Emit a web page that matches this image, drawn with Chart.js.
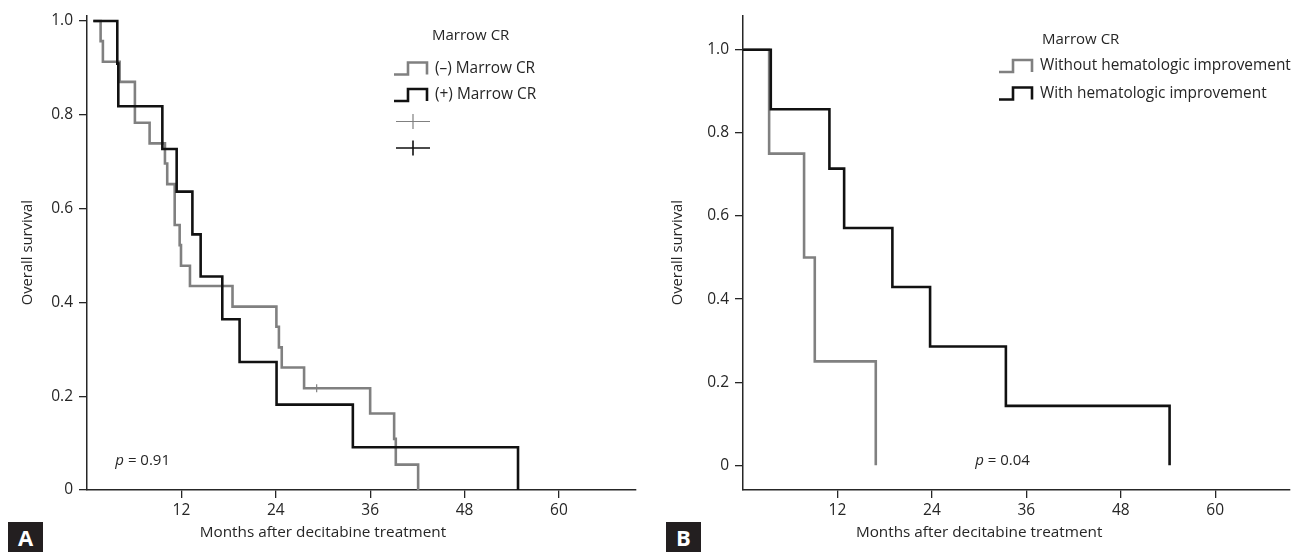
<!DOCTYPE html>
<html>
<head>
<meta charset="utf-8">
<script src="https://cdn.jsdelivr.net/npm/chart.js@4.4.1/dist/chart.umd.min.js"></script>
<style>
  body { margin: 0; background: #fff; width: 1295px; height: 552px; position: relative; overflow: hidden; }
  .panel { position: absolute; top: 0; height: 552px; }
  .tag { position: absolute; top: 522px; width: 35px; height: 30px; background: #231f20; color: #fff;
         font: bold 22px "Open Sans"; text-align: center; line-height: 31px; }
</style>
</head>
<body>
<div class="panel" style="left:0;width:650px"><canvas id="chartA"></canvas></div>
<div class="panel" style="left:650px;width:645px"><canvas id="chartB"></canvas></div>
<div class="tag" style="left:8px">A</div>
<div class="tag" style="left:666px">B</div>
<script>
var monthTicks = [12, 24, 36, 48, 60];
var survivalTicks = [0, 0.2, 0.4, 0.6, 0.8, 1.0];

// panel A - marrow CR
var crNegMonths = [0.8, 1.73, 2.02, 4.15, 6.09, 7.96, 9.91, 10.2, 11.15, 11.78, 11.95, 13.09, 18.5, 24.08, 24.4, 24.76, 27.6, 29.2, 36.0, 39.05, 39.26, 42.1];
var crNegSurv   = [1.0, 0.957, 0.913, 0.870, 0.783, 0.739, 0.696, 0.652, 0.565, 0.522, 0.478, 0.435, 0.391, 0.348, 0.304, 0.261, 0.217, 0.217, 0.163, 0.109, 0.054, 0];
var crPosMonths = [0.8, 3.85, 3.98, 9.58, 11.4, 13.4, 14.45, 17.2, 19.4, 24.1, 33.8, 54.8];
var crPosSurv   = [1.0, 0.909, 0.818, 0.727, 0.636, 0.545, 0.455, 0.364, 0.273, 0.182, 0.091, 0];
var crNegCensorMonths = [29.2];
var crNegCensorSurv   = [0.217];

// panel B - hematologic improvement
var noHiMonths = [0, 3.32, 7.76, 9.12, 16.87];
var noHiSurv   = [1.0, 0.75, 0.5, 0.25, 0];
var hiMonths   = [0, 3.53, 10.98, 12.85, 18.98, 23.77, 33.4, 54.2];
var hiSurv     = [1.0, 0.857, 0.714, 0.571, 0.429, 0.286, 0.143, 0];

var labelsA = ['(\u2013) Marrow CR', '(+) Marrow CR'];
var labelsB = ['Without hematologic improvement', 'With hematologic improvement'];
var legendTitle = 'Marrow CR';
var xTitle = 'Months after decitabine treatment';
var yTitle = 'Overall survival';

var GREY = '#808080';
var BLACK = '#111111';
var TEXT = '#262626';
var FONT = '"Open Sans"';

function pts(xs, ys) {
  return xs.map(function (x, i) { return { x: x, y: ys[i] }; });
}

function stepSet(label, xs, ys, color, order) {
  return {
    label: label, data: pts(xs, ys), stepped: true, borderColor: color,
    borderWidth: 2.6, pointRadius: 0, fill: false, order: order, legendStep: true
  };
}

var notesPlugin = {
  id: 'notes',
  afterDraw: function (chart, args, opts) {
    var ctx = chart.ctx, xs = chart.scales.x, ys = chart.scales.y;
    ctx.save();
    ctx.fillStyle = TEXT;
    ctx.textBaseline = 'middle';

    // x axis title, centred on the 0-60 month span
    ctx.textAlign = 'center';
    ctx.font = '15.3px ' + FONT;
    ctx.fillText(xTitle, xs.getPixelForValue(30), 533);

    // p value
    ctx.textAlign = 'left';
    var px = xs.getPixelForValue(opts.pMonth), py = ys.getPixelForValue(opts.pSurv);
    ctx.font = 'italic 15px ' + FONT;
    ctx.fillText('p', px, py);
    var w = ctx.measureText('p').width;
    ctx.font = '15px ' + FONT;
    ctx.fillText(' = ' + opts.pText, px + w, py);

    // legend with step icons
    ctx.fillText(legendTitle, opts.titleX, opts.titleY);
    ctx.font = '15.4px ' + FONT;
    var rows = chart.data.datasets.filter(function (d) { return d.legendStep; });
    rows.forEach(function (d, i) {
      var cy = opts.top + i * opts.gap, L = opts.iconX;
      ctx.strokeStyle = d.borderColor;
      ctx.lineWidth = 2.6;
      ctx.beginPath();
      ctx.moveTo(L, cy + 6);
      ctx.lineTo(L + 14, cy + 6);
      ctx.lineTo(L + 14, cy - 6);
      ctx.lineTo(L + 33, cy - 6);
      ctx.lineTo(L + 33, cy + 6);
      ctx.stroke();
      ctx.fillText(d.label, opts.textX, cy);
    });
    if (opts.crosses) {
      rows.forEach(function (d, i) {
        var cy = opts.top + (rows.length + i) * opts.gap, cx = opts.iconX + 19;
        ctx.strokeStyle = d.borderColor;
        ctx.lineWidth = i === 0 ? 1.2 : 1.6;
        ctx.beginPath();
        ctx.moveTo(cx - 17, cy); ctx.lineTo(cx + 17, cy);
        ctx.moveTo(cx, cy - 7.5); ctx.lineTo(cx, cy + 7.5);
        ctx.stroke();
      });
    }
    ctx.restore();
  }
};

function axes(xMax, yMin, yMax, yWidth) {
  var line = { display: true, color: '#262626', width: 1.5 };
  var grid = { drawOnChartArea: false, drawTicks: true, tickLength: 8, color: '#262626', lineWidth: 1.3 };
  return {
    x: {
      type: 'linear', min: 0, max: xMax, border: line, grid: grid,
      afterBuildTicks: function (s) { s.ticks = monthTicks.map(function (v) { return { value: v }; }); },
      afterFit: function (s) { s.height = 62; },
      ticks: { color: TEXT, font: { family: FONT, size: 15.5 }, padding: 3, maxRotation: 0 }
    },
    y: {
      type: 'linear', min: yMin, max: yMax, border: line, grid: grid,
      afterBuildTicks: function (s) { s.ticks = survivalTicks.map(function (v) { return { value: v }; }); },
      afterFit: function (s) { s.width = yWidth; },
      ticks: {
        color: TEXT, font: { family: FONT, size: 15.5 }, padding: 6,
        callback: function (v) { return v === 0 ? '0' : v.toFixed(1); }
      },
      title: { display: true, text: yTitle, color: TEXT, font: { family: FONT, size: 14.8 }, padding: { top: 19, bottom: 0 } }
    }
  };
}

function baseOptions(xMax, yMin, yMax, yWidth, padRight, notes) {
  return {
    responsive: true, maintainAspectRatio: false, animation: false,
    layout: { padding: { top: 10, right: padRight, left: 0, bottom: 0 } },
    scales: axes(xMax, yMin, yMax, yWidth),
    plugins: { legend: { display: false }, tooltip: { enabled: false }, notes: notes }
  };
}

new Chart(document.getElementById('chartA'), {
  type: 'line',
  data: {
    datasets: [
      stepSet(labelsA[0], crNegMonths, crNegSurv, GREY, 2),
      stepSet(labelsA[1], crPosMonths, crPosSurv, BLACK, 1),
      {
        label: 'censored', data: pts(crNegCensorMonths, crNegCensorSurv), showLine: false,
        pointStyle: 'cross', pointRadius: 4, borderColor: GREY, borderWidth: 1.2, order: 0
      }
    ]
  },
  options: baseOptions(69.8, 0, 1.012, 87, 14, {
    pMonth: 3.6, pSurv: 0.063, pText: '0.91',
    titleX: 432, titleY: 36, iconX: 394, textX: 435, top: 68.5, gap: 26.5, crosses: true
  }),
  plugins: [notesPlugin]
});

new Chart(document.getElementById('chartB'), {
  type: 'line',
  data: {
    datasets: [
      stepSet(labelsB[0], noHiMonths, noHiSurv, GREY, 2),
      stepSet(labelsB[1], hiMonths, hiSurv, BLACK, 1)
    ]
  },
  options: baseOptions(69.5, -0.0595, 1.083, 93, 5, {
    pMonth: 29.5, pSurv: 0.012, pText: '0.04',
    titleX: 392, titleY: 40, iconX: 349, textX: 390, top: 66, gap: 27.5, crosses: false
  }),
  plugins: [notesPlugin]
});
</script>
</body>
</html>
